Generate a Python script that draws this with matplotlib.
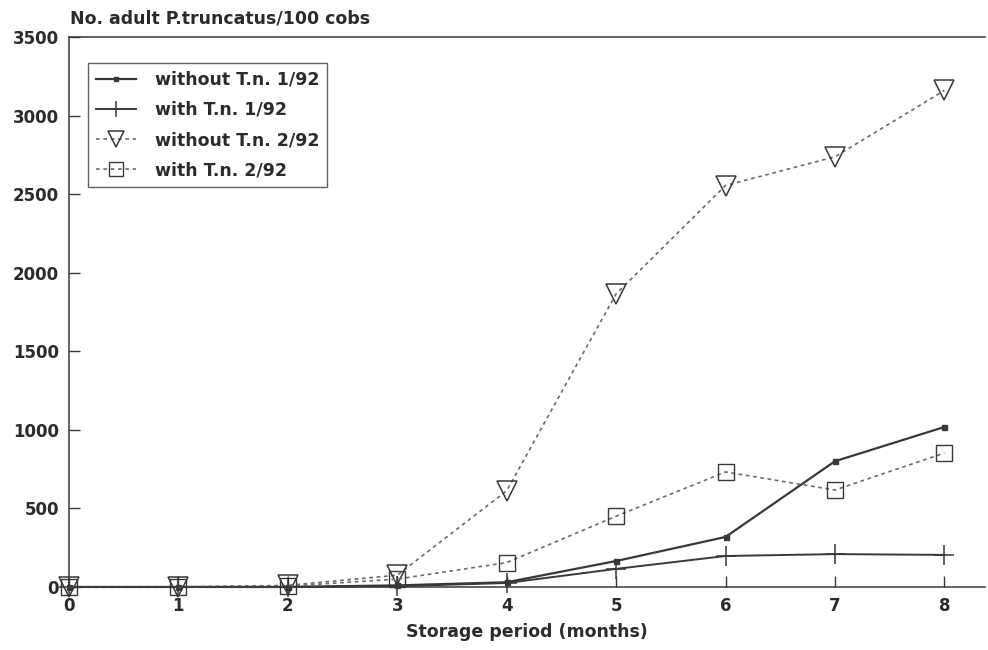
import numpy as np
from matplotlib import pyplot as plt

# storage months and adult counts per 100 cobs
months = [0, 1, 2, 3, 4, 5, 6, 7, 8]
without_tn_1 = [0, 0, 0, 10, 30, 165, 318, 800, 1018]
with_tn_1 = [0, 0, 0, 5, 25, 115, 197, 209, 204]
without_tn_2 = [0, 0, 10, 75, 612, 1865, 2555, 2738, 3160]
with_tn_2 = [0, 0, 5, 50, 155, 450, 732, 617, 852]

y_ticks = [0, 500, 1000, 1500, 2000, 2500, 3000, 3500]

plt.rcParams['font.family'] = ['DejaVu Sans']
txt = '#2b2b2b'
dark = '#383838'
grey = '#6a6a6a'

fig = plt.figure(figsize=(9.88, 6.5), dpi=100)
ax = fig.add_axes([0.0698, 0.097, 0.927, 0.846])

ax.plot(months, without_tn_1, color=dark, lw=1.6, marker='s', ms=3.6,
        mfc=dark, mec=dark, clip_on=False, label='without T.n. 1/92')
ax.plot(months, with_tn_1, color=dark, lw=1.4, marker='+', ms=14,
        mew=1.1, clip_on=False, label='with T.n. 1/92')
ax.plot(months, without_tn_2, color=grey, lw=1.2, ls=(0, (2.2, 2.2)),
        marker='v', ms=14.5, mfc='none', mec=dark, mew=1.1, clip_on=False,
        label='without T.n. 2/92')
ax.plot(months, with_tn_2, color=grey, lw=1.2, ls=(0, (2.2, 2.2)),
        marker='s', ms=12, mfc='none', mec=dark, mew=1.0, clip_on=False,
        label='with T.n. 2/92')

ax.set_xlim(0, 8.37)
ax.set_ylim(0, 3500)
ax.set_xticks(months)
ax.set_yticks(y_ticks)
ax.spines['right'].set_visible(False)
for s in ['left', 'bottom', 'top']:
    ax.spines[s].set_color(dark)
    ax.spines[s].set_linewidth(1.1)
ax.tick_params(direction='in', length=8, width=1, color=dark,
               labelsize=12, labelcolor=txt, pad=7)
for lab in ax.get_xticklabels() + ax.get_yticklabels():
    lab.set_fontweight('bold')

ax.set_xlabel('Storage period (months)', fontsize=12.5, fontweight='bold',
              color=txt, labelpad=6)
fig.text(0.071, 0.972, 'No. adult P.truncatus/100 cobs', fontsize=12.5,
         fontweight='bold', color=txt, va='center', ha='left')

leg = ax.legend(loc='upper left', bbox_to_anchor=(0.021, 0.953),
                borderaxespad=0, fontsize=12.5, frameon=True,
                fancybox=False, edgecolor=dark, handlelength=2.3,
                labelspacing=0.7, borderpad=0.45, handletextpad=1.1,
                markerscale=0.8)
leg.get_frame().set_linewidth(1.0)
for t in leg.get_texts():
    t.set_fontweight('bold')
    t.set_color(txt)

fig.savefig('out.png', dpi=100)
